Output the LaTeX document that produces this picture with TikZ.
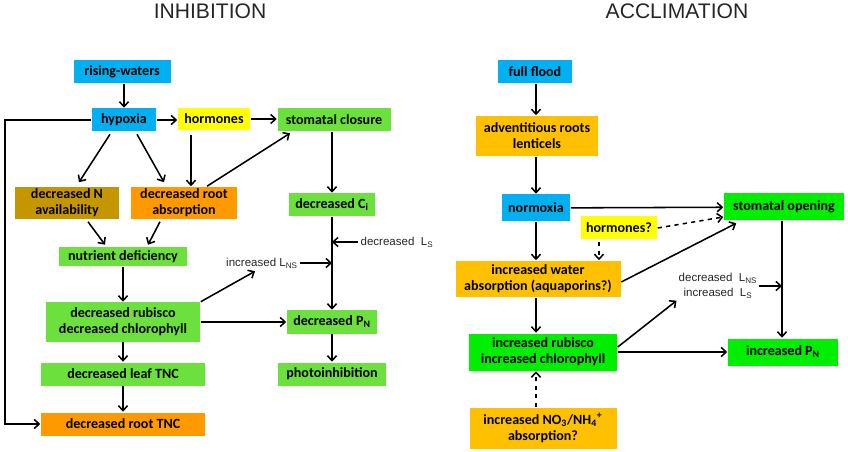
\documentclass[tikz,border=0pt]{standalone}
\usepackage{fontspec}
\setmainfont{Liberation Sans}
\newfontfamily\boxfont{Carlito}
\usetikzlibrary{calc, arrows.meta}

\definecolor{seablue}{RGB}{0,176,240}
\definecolor{hormyellow}{RGB}{255,255,0}
\definecolor{leafgreen}{RGB}{108,224,60}
\definecolor{brightgreen}{RGB}{0,238,0}
\definecolor{soilgold}{RGB}{198,150,0}
\definecolor{rootorange}{RGB}{255,153,0}
\definecolor{amber}{RGB}{255,192,0}

\begin{document}
\begin{tikzpicture}[x=0.025cm, y=-0.025cm, line width=1.1pt,
                    >={Straight Barb[length=3.5pt, width=6.5pt]},
                    box/.style 2 args={minimum width=#1*0.025cm, minimum height=#2*0.025cm},
                    main node/.style={inner sep=0pt, align=center,
                                      font=\boxfont\bfseries\fontsize{10}{11.5}\selectfont},
                    blue node/.style={main node, fill=seablue},
                    yellow node/.style={main node, fill=hormyellow},
                    green node/.style={main node, fill=leafgreen},
                    bright node/.style={main node, fill=brightgreen},
                    gold node/.style={main node, fill=soilgold},
                    orange node/.style={main node, fill=rootorange},
                    amber node/.style={main node, fill=amber},
                    label node/.style={inner sep=1pt, align=center, text=black!85,
                                       font=\fontsize{8.2}{10.5}\selectfont},
                    title node/.style={text=black!85, font=\fontsize{15}{18}\selectfont}]

  \useasboundingbox (0,0) rectangle (848,452);

  % titles
  \node[title node] (inhibition) at (210,11) {INHIBITION};
  \node[title node] (acclimation) at (677,11) {ACCLIMATION};

  % inhibition
  \node[blue node, box={97}{23}] (rising) at (122,72) {rising-waters};
  \node[blue node, box={64}{23}] (hypoxia) at (124,120) {hypoxia};
  \node[yellow node, box={72}{22}] (hormones) at (214,119) {hormones};
  \node[green node, box={113}{23}] (closure) at (334,120) {stomatal closure};
  \node[gold node, box={104}{32}] (nitrogen) at (67,203) {decreased N\\availability};
  \node[orange node, box={106}{32}] (absorb) at (184,203) {decreased root\\absorption};
  \node[green node, box={86}{23}] (ci) at (332,205) {decreased C\textsubscript{i}};
  \node[green node, box={128}{19}] (nutrient) at (123,257) {nutrient deficiency};
  \node[green node, box={154}{39}] (rubisco) at (123,322) {decreased rubisco\\decreased chlorophyll};
  \node[green node, box={164}{23}] (leaftnc) at (123,374) {decreased leaf TNC};
  \node[orange node, box={164}{23}] (roottnc) at (123,424) {decreased root TNC};
  \node[green node, box={90}{23}] (pn) at (332,322) {decreased P\textsubscript{N}};
  \node[green node, box={108}{23}] (photo) at (332,374) {photoinhibition};
  \node[label node] (lns) at (262,263) {increased L\textsubscript{NS}};
  \node[label node] (ls) at (397,242) {decreased\ \ L\textsubscript{S}};

  \coordinate (lnsend) at (332,263);
  \coordinate (lsend) at (332,242);
  \coordinate (loop) at (5,0);

  \path[->]
    (rising.south -| hypoxia.north) edge (hypoxia.north)
    (hypoxia.east) edge (hypoxia.east -| hormones.west)
    (hormones.east) edge (hormones.east -| closure.west)
    ($(hypoxia.south)+(-14,2)$) edge ($(nitrogen.north)+(12,-4)$)
    ($(hypoxia.south)+(13,2)$) edge ($(absorb.north)+(-20,-4)$)
    ($(hormones.south)+(-23,4)$) edge ($(absorb.north)+(7,0)$)
    ($(absorb.north)+(23,0)$) edge ($(closure.south)+(-44,1)$)
    (ci.north |- closure.south) edge (ci.north)
    (ci) edge (pn)
    ($(nitrogen.south)+(21,2)$) edge ($(nutrient.north)+(-18,-2)$)
    ($(absorb.south)+(-24,2)$) edge ($(nutrient.north)+(25,-2)$)
    (nutrient) edge (rubisco)
    (rubisco) edge (leaftnc)
    (leaftnc) edge (roottnc)
    (rubisco.north east) edge ($(lns.south)+(-7,1)$)
    (rubisco.east) edge (pn.west)
    (lns) edge (lnsend)
    (ls) edge (lsend)
    (pn) edge (photo);
  \draw[->] (hypoxia.west) -- (hypoxia.west -| loop) |- (roottnc.west);

  % acclimation
  \node[blue node, box={74}{23}] (flood) at (535,72) {full flood};
  \node[amber node, box={122}{40}] (roots) at (537,136) {adventitious roots\\lenticels};
  \node[blue node, box={68}{27}] (normoxia) at (536,208) {normoxia};
  \node[bright node, box={120}{27}] (opening) at (784,207) {stomatal opening};
  \node[yellow node, box={76}{23}] (hormq) at (619,228) {hormones?};
  \node[amber node, box={165}{36}] (water) at (538,279) {increased water\\absorption (aquaporins?)};
  \node[bright node, box={148}{37}] (incrubisco) at (543,352) {increased rubisco\\increased chlorophyll};
  \node[amber node, box={147}{41}] (nitrate) at (543,428) {increased NO\textsubscript{3}/NH\textsubscript{4}\textsuperscript{+}\\absorption?};
  \node[bright node, box={110}{27}] (incpn) at (783,352) {increased P\textsubscript{N}};
  \node[label node] (lsns) at (718,286) {decreased\ \ L\textsubscript{NS}\\increased\ \ L\textsubscript{S}};

  \coordinate (accend) at (782,286);
  \coordinate (hq) at ($(hormq.south)+(-20,0)$);

  \path[->]
    (flood.south -| normoxia) edge (roots.north -| normoxia)
    (roots.south -| normoxia) edge (normoxia)
    (normoxia) edge (opening)
    (hormq.east) edge[dashed] ($(opening.west)+(0,10)$)
    ($(hq)+(0,2)$) edge[dashed] (hq |- water.north)
    ($(water.east)+(0,3)$) edge ($(opening.south west)+(13,2)$)
    (normoxia) edge (water.north -| normoxia)
    (water.south -| normoxia) edge (incrubisco.north -| normoxia)
    ($(incrubisco.east)+(0,-5)$) edge (lsns.south west)
    (incrubisco.east) edge (incpn.west)
    (lsns.east) edge (accend)
    (opening.south -| accend) edge (incpn.north -| accend)
    (nitrate.north -| normoxia) edge[dashed] (incrubisco.south -| normoxia);
\end{tikzpicture}
\end{document}
